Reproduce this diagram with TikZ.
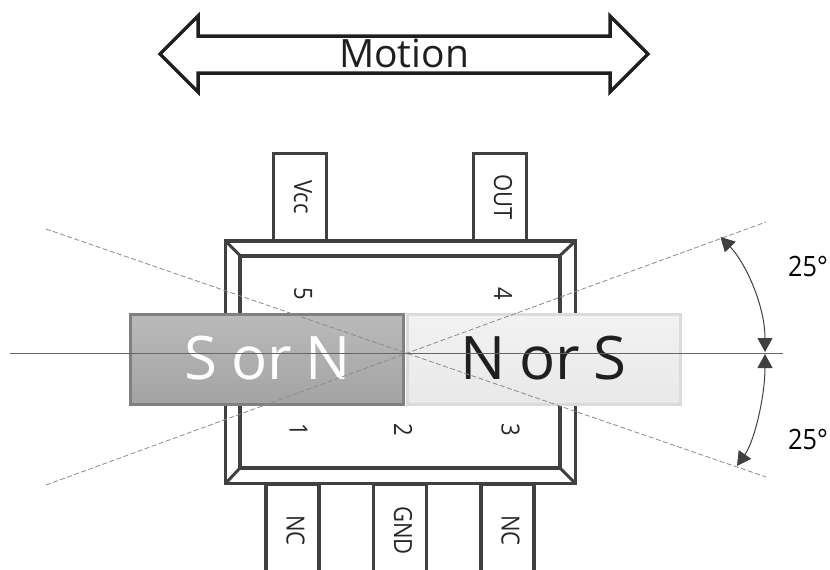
\documentclass[tikz,border=0pt]{standalone}
\usepackage{fontspec}
\setmainfont{Open Sans}
\usetikzlibrary{arrows.meta}
\definecolor{chipc}{HTML}{404040}
\definecolor{guidec}{HTML}{8A8A8A}
\newcommand{\narrowtxt}[1]{\scalebox{0.88}[1]{#1}}
\tikzset{
 x=1pt,y=-1pt,
 pinbox/.style={draw=chipc,line width=3.2pt,fill=white,minimum width=53pt,minimum height=87pt,inner sep=0pt,anchor=center},
 pintext/.style={rotate=-90,font=\fontsize{25}{25}\selectfont,text=black!85,inner sep=0pt},
 chipline/.style={draw=chipc,line width=4pt,line join=miter},
 magnetbox/.style={line width=3pt,minimum width=273pt,minimum height=90pt,inner sep=0pt,font=\fontsize{60}{60}\selectfont},
 guide/.style={draw=guidec,line width=.8pt,dash pattern=on 5pt off 2.5pt},
 axisline/.style={draw=black!60,line width=1pt},
 anglearrow/.style={draw=chipc,line width=1pt,{Triangle[length=14pt,width=15pt,fill=chipc]}-{Triangle[length=14pt,width=15pt,fill=chipc]}},
 angletext/.style={font=\fontsize{28}{28}\selectfont,text=black,inner sep=0pt},
}
\begin{document}
\begin{tikzpicture}
\useasboundingbox (0,0) rectangle (830,570);
% motion arrow
\draw[draw=black!88,line width=3.5pt,miter limit=10,fill=white] (160,54) -- (198,16) -- (198,36) -- (610,36) -- (610,16) -- (648,54) -- (610,92) -- (610,73) -- (198,73) -- (198,92) -- cycle;
\node[font=\fontsize{39}{39}\selectfont,text=black!88,inner sep=0pt] (motion) at (404,53.5) {Motion};
% pins
\node[pinbox] (pinvcc) at (300,197) {};
\node[pinbox] (pinout) at (500,197) {};
\node[pinbox] (pinnca) at (292.5,528) {};
\node[pinbox] (pingnd) at (400,528) {};
\node[pinbox] (pinncb) at (507.5,528) {};
\node[pintext] (lvcc) at (303,197) {\narrowtxt{Vcc}};
\node[pintext] (lout) at (503,197.5) {\narrowtxt{OUT}};
\node[pintext] (lnca) at (295.5,530.5) {\narrowtxt{NC}};
\node[pintext] (lgnd) at (403,530.5) {\narrowtxt{GND}};
\node[pintext] (lncb) at (510.5,530.5) {\narrowtxt{NC}};
% chip
\draw[chipline,line width=3.5pt,fill=white] (225.5,241) rectangle (575.5,483.5);
\draw[chipline] (240,255.5) rectangle (560,468);
\draw[chipline,line width=3pt] (225.5,241) -- (240,255.5) (575.5,241) -- (560,255.5) (225.5,483.5) -- (240,468) (575.5,483.5) -- (560,468);
% pin numbers
\node[pintext] (nfive) at (303.2,294) {\narrowtxt{5}};
\node[pintext] (nfour) at (503.2,294) {\narrowtxt{4}};
\node[pintext] (none) at (298.5,430) {\narrowtxt{1}};
\node[pintext] (ntwo) at (403.2,430) {\narrowtxt{2}};
\node[pintext] (nthree) at (510.5,430) {\narrowtxt{3}};
% magnets
\node[magnetbox,draw=black!50,top color=black!27,bottom color=black!36,text=white] (magnets) at (266.5,359) {\kern3pt\raisebox{1.5pt}{S\kern-2pt\ or\kern-2pt\ N}};
\node[magnetbox,draw=black!14,top color=black!5,bottom color=black!9,text=black!88] (magnetn) at (543.5,359) {\raisebox{1.5pt}{N\kern-2pt\ or\kern-2pt\ S}};
% guides
\coordinate (ga) at (46,229);
\coordinate (gb) at (766,477);
\coordinate (gc) at (46,485);
\coordinate (gd) at (766,222);
\coordinate (axl) at (10,353);
\coordinate (axr) at (783,353);
\draw[guide] (ga) -- (gb);
\draw[guide] (gc) -- (gd);
\draw[axisline] (axl) -- (axr);
% angles
\coordinate (ta) at (720.5,237);
\coordinate (tm) at (765,352);
\coordinate (tb) at (765,354);
\coordinate (bb) at (737,466);
\draw[anglearrow] (ta) .. controls (745,262) and (765,305) .. (tm);
\draw[anglearrow] (tb) .. controls (765,395) and (755,440) .. (bb);
\node[angletext] (anga) at (808,266) {\scalebox{0.9}[1]{25°}};
\node[angletext] (angb) at (808,439) {\scalebox{0.9}[1]{25°}};
\end{tikzpicture}
\end{document}
